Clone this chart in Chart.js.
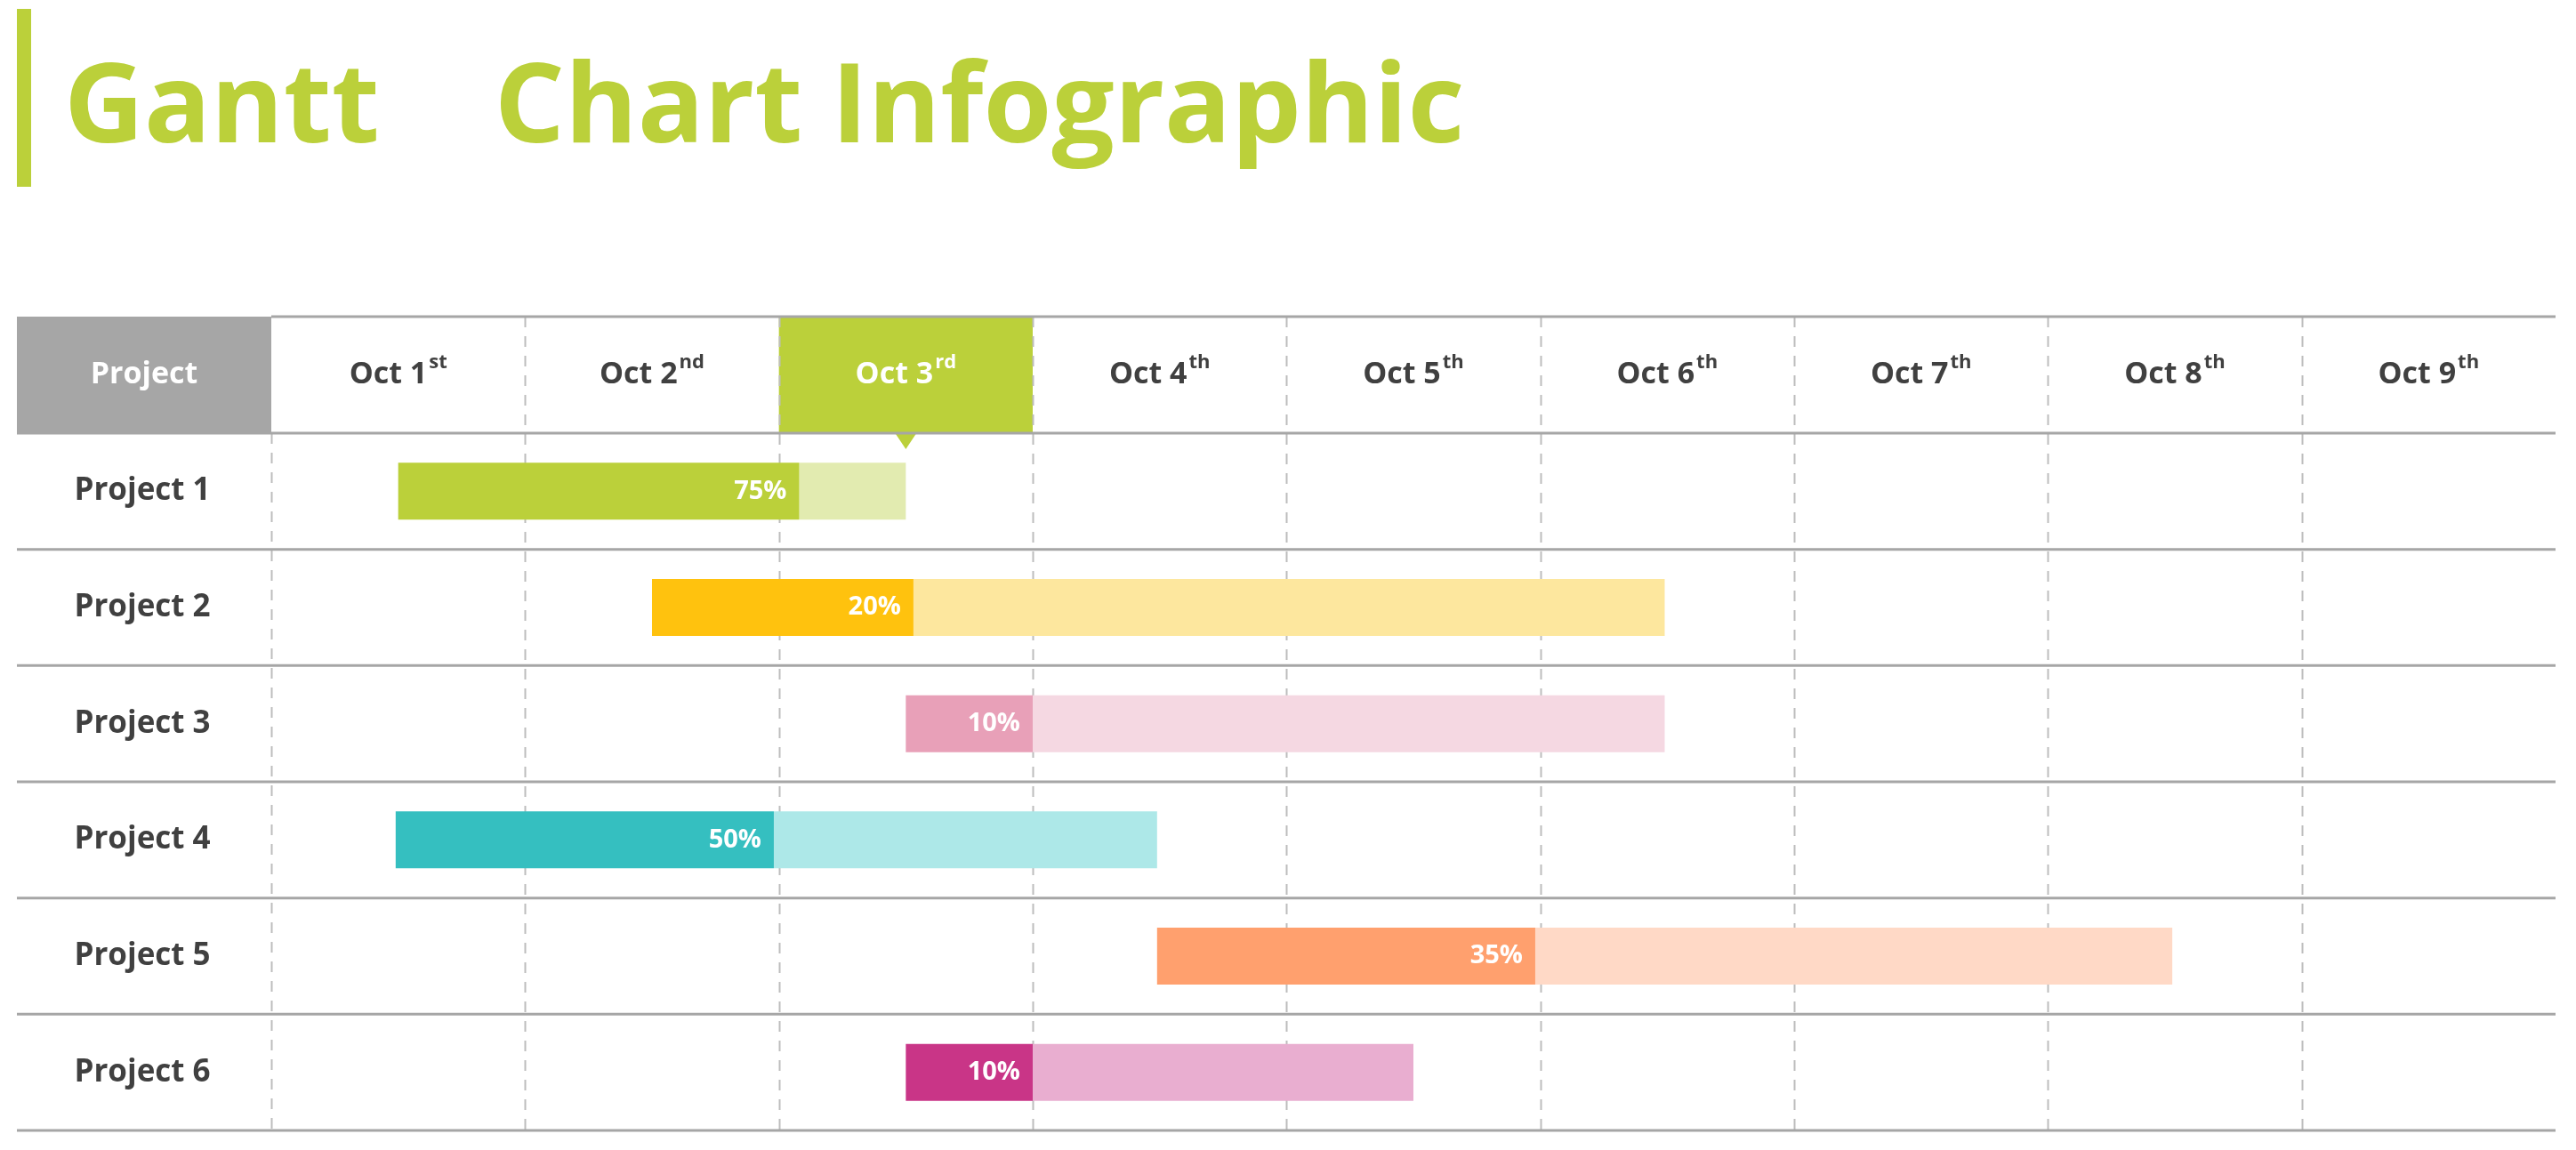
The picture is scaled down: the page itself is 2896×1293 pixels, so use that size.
<!DOCTYPE html>
<html><head><meta charset="utf-8">
<script src="https://cdn.jsdelivr.net/npm/chart.js@4/dist/chart.umd.min.js"></script>
<style>html,body{margin:0;padding:0;background:#fff;}canvas{display:block;}</style>
</head><body>
<canvas id="c" width="2896" height="1293"></canvas>
<script>
const projects = ['Project 1','Project 2','Project 3','Project 4','Project 5','Project 6'];
const starts   = [0.50, 1.50, 2.50, 0.49, 3.49, 2.50];
const splits   = [2.08, 2.53, 3.00, 1.98, 4.98, 3.00];
const ends     = [2.50, 5.49, 5.49, 3.49, 7.49, 4.50];
const percents = ['75%','20%','10%','50%','35%','10%'];
const dayLabels = ['Oct 1','Oct 2','Oct 3','Oct 4','Oct 5','Oct 6','Oct 7','Oct 8','Oct 9'];
const daySuffix = ['st','nd','rd','th','th','th','th','th','th'];
const doneColors = ['#BBD03A','#FFC20E','#E8A0B8','#35BFC0','#FFA06E','#C93587'];
const restColors = ['#E2EBB0','#FDE79E','#F5D8E2','#ADE8E8','#FFD9C6','#E9AED0'];
const highlightDay = 2;

const L = 19, PC = 305, R = 2873, HT = 356, HB = 487, BOT = 1271;
const FONT = '"Open Sans", "Liberation Sans", sans-serif';
const TXT = '#404040', GREEN = '#BBD03A';

const deco = {
  id: 'deco',
  beforeDatasetsDraw(chart) {
    const ctx = chart.ctx, x = chart.scales.x, y = chart.scales.y;
    ctx.save();
    // title
    ctx.fillStyle = GREEN;
    ctx.fillRect(19, 10, 16, 200);
    ctx.font = 'bold 120px ' + FONT;
    const t = 'Gantt    Chart Infographic';
    const w = ctx.measureText(t).width;
    const fs = 120 * 1574 / w;
    ctx.font = 'bold ' + fs.toFixed(1) + 'px ' + FONT;
    ctx.textBaseline = 'alphabetic';
    ctx.fillText(t, 72, 160);
    // project header
    ctx.fillStyle = '#A6A6A6';
    ctx.fillRect(L, HT, PC - L, HB - HT);
    // highlight header
    const hx0 = x.getPixelForValue(highlightDay), hx1 = x.getPixelForValue(highlightDay + 1);
    ctx.fillStyle = GREEN;
    ctx.fillRect(hx0, HT, hx1 - hx0, HB - HT);
    const hm = (hx0 + hx1) / 2;
    ctx.beginPath(); ctx.moveTo(hm - 12, HB); ctx.lineTo(hm + 12, HB); ctx.lineTo(hm, HB + 18); ctx.closePath(); ctx.fill();
    // vertical dashed lines
    ctx.strokeStyle = '#BDBDBD'; ctx.lineWidth = 2; ctx.setLineDash([12, 10]);
    for (let d = 0; d < dayLabels.length; d++) {
      const px = Math.round(x.getPixelForValue(d)) + 0.5;
      ctx.beginPath(); ctx.moveTo(px, d === 0 ? HB : HT); ctx.lineTo(px, BOT); ctx.stroke();
    }
    ctx.setLineDash([]);
    // horizontal lines
    ctx.strokeStyle = '#A6A6A6'; ctx.lineWidth = 3;
    const rowH = (BOT - HB) / projects.length;
    for (let i = 0; i <= projects.length; i++) {
      const py = HB + i * rowH;
      ctx.beginPath(); ctx.moveTo(L, py); ctx.lineTo(R, py); ctx.stroke();
    }
    ctx.beginPath(); ctx.moveTo(PC, HT); ctx.lineTo(R, HT); ctx.stroke();
    // header text
    ctx.textBaseline = 'middle'; ctx.textAlign = 'center';
    ctx.font = 'bold 34px ' + FONT; ctx.fillStyle = '#fff';
    ctx.fillText('Project', (L + PC) / 2, (HT + HB) / 2);
    for (let d = 0; d < dayLabels.length; d++) {
      const cx = x.getPixelForValue(d + 0.5), cy = (HT + HB) / 2;
      ctx.font = 'bold 34px ' + FONT; const w1 = ctx.measureText(dayLabels[d]).width;
      ctx.font = 'bold 22px ' + FONT; const w2 = ctx.measureText(daySuffix[d]).width;
      const sx = cx - (w1 + w2 + 2) / 2;
      ctx.fillStyle = d === highlightDay ? '#fff' : TXT;
      ctx.textAlign = 'left';
      ctx.font = 'bold 34px ' + FONT; ctx.fillText(dayLabels[d], sx, cy);
      ctx.font = 'bold 22px ' + FONT; ctx.fillText(daySuffix[d], sx + w1 + 2, cy - 14);
    }
    // row labels
    ctx.textAlign = 'center'; ctx.fillStyle = TXT; ctx.font = 'bold 35px ' + FONT;
    projects.forEach((p, i) => ctx.fillText(p, (L + PC) / 2 - 2, y.getPixelForValue(i)));
    ctx.restore();
  },
  afterDatasetsDraw(chart) {
    const ctx = chart.ctx, meta = chart.getDatasetMeta(0);
    ctx.save();
    ctx.fillStyle = '#fff'; ctx.font = 'bold 29px ' + FONT;
    ctx.textAlign = 'right'; ctx.textBaseline = 'middle';
    meta.data.forEach((el, i) => ctx.fillText(percents[i], el.x - 14, el.y));
    ctx.restore();
  }
};

new Chart(document.getElementById('c'), {
  type: 'bar',
  data: {
    labels: projects,
    datasets: [
      { label: 'Done', data: projects.map((_, i) => [starts[i], splits[i]]), backgroundColor: doneColors, grouped: false, order: 0 },
      { label: 'Remaining', data: projects.map((_, i) => [splits[i], ends[i]]), backgroundColor: restColors, grouped: false, order: 1 }
    ]
  },
  options: {
    indexAxis: 'y', responsive: false, animation: false, devicePixelRatio: 1,
    layout: { padding: { left: PC, right: 2896 - R, top: HB, bottom: 1293 - BOT } },
    datasets: { bar: { barPercentage: 1, categoryPercentage: 0.49, borderWidth: 0, borderSkipped: false } },
    scales: {
      x: { display: false, min: 0, max: 9 },
      y: { display: false }
    },
    plugins: { legend: { display: false }, tooltip: { enabled: false } }
  },
  plugins: [deco]
});
</script>
</body></html>
